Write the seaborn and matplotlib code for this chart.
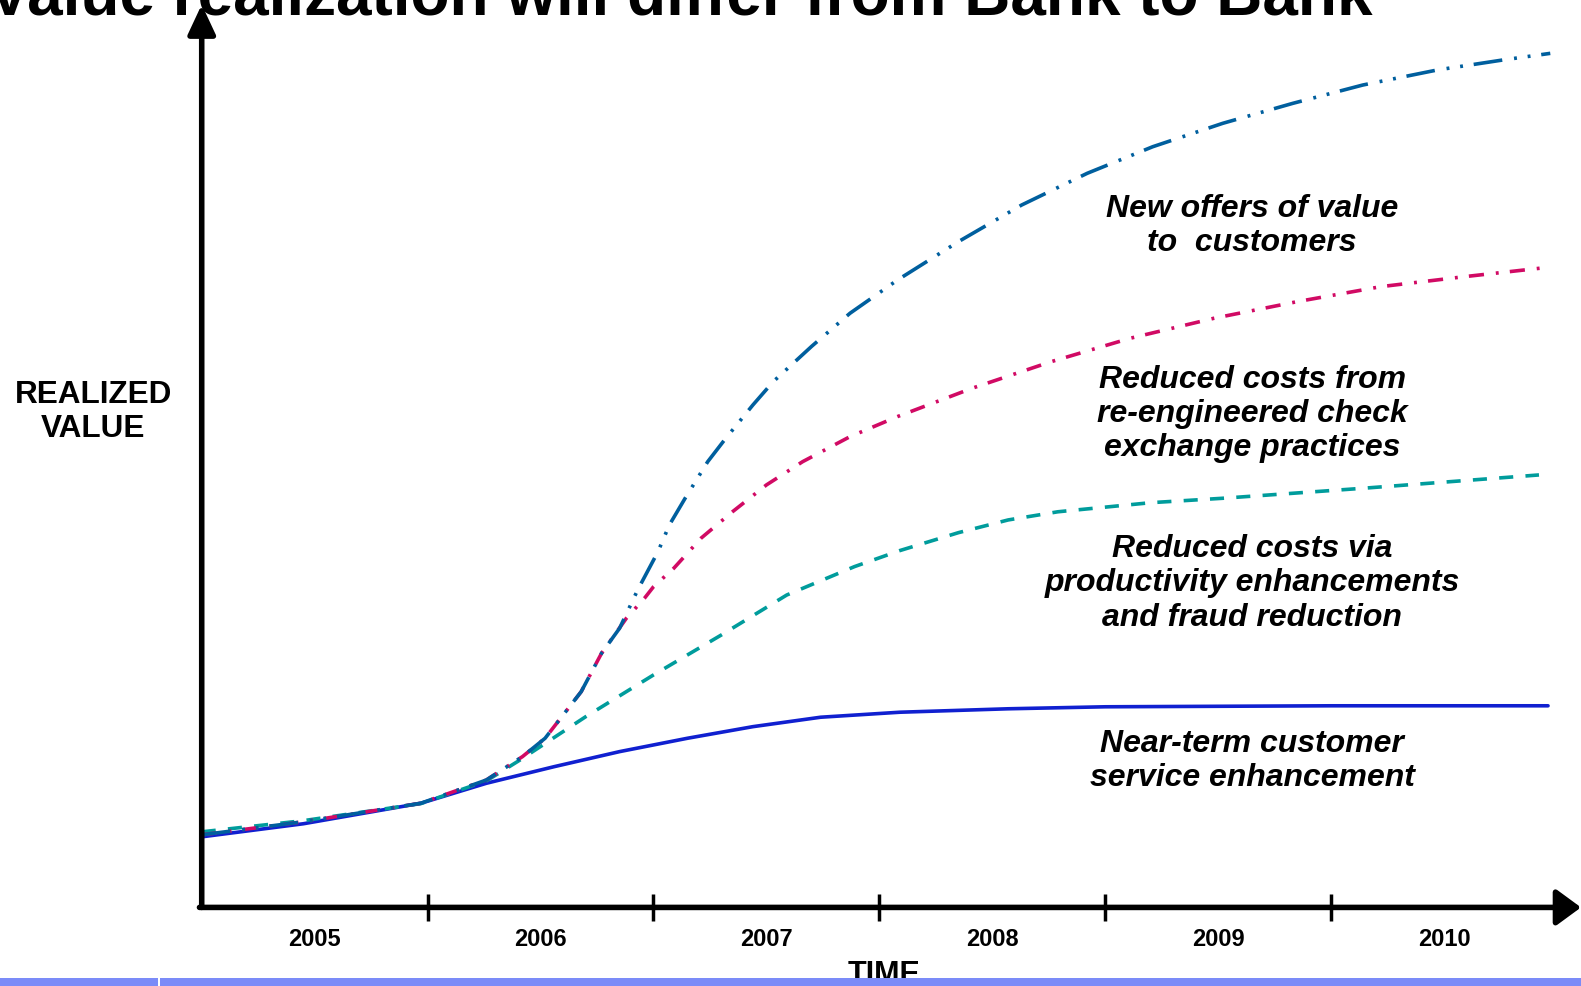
import matplotlib
matplotlib.use("Agg")
import matplotlib.pyplot as plt
from matplotlib.patches import Rectangle
import seaborn as sns

# ---- data (time in years, value in % of axis height) ----
years = [2005, 2006, 2007, 2008, 2009, 2010]

near_t = [2005.00, 2005.45, 2005.97, 2006.26, 2006.56, 2006.85, 2007.15, 2007.44,
          2007.74, 2008.09, 2008.57, 2009.00, 2010.00, 2010.96]
near_v = [7.78, 9.22, 11.48, 13.68, 15.51, 17.17, 18.64, 19.92, 20.96, 21.51, 21.89,
          22.11, 22.22, 22.22]

prod_t = [2005.00, 2005.45, 2005.97, 2006.26, 2006.41, 2006.70, 2007.00, 2007.30,
          2007.59, 2007.89, 2008.09, 2008.35, 2008.57, 2008.79, 2009.20, 2009.52,
          2010.14, 2010.92]
prod_v = [8.33, 9.56, 11.44, 13.94, 16.26, 21.02, 25.62, 30.02, 34.43, 37.56, 39.32,
          41.30, 42.70, 43.60, 44.60, 45.09, 46.19, 47.66]

check_t = [2005.00, 2005.45, 2005.97, 2006.26, 2006.42, 2006.52, 2006.60, 2006.68,
           2006.77, 2006.88, 2006.96, 2007.00, 2007.09, 2007.21, 2007.35, 2007.50,
           2007.66, 2007.87, 2008.08, 2008.41, 2008.76, 2009.11, 2009.48, 2009.85,
           2010.22, 2010.59, 2010.96]
check_v = [8.00, 9.44, 11.48, 14.04, 16.62, 18.64, 21.21, 23.78, 28.01, 31.87, 34.07,
           35.34, 37.38, 40.68, 43.61, 46.56, 49.12, 51.88, 54.09, 57.21, 60.14, 62.72,
           64.92, 66.76, 68.41, 69.51, 70.54]

offers_t = [2005.00, 2005.45, 2005.97, 2006.26, 2006.42, 2006.52, 2006.60, 2006.68,
            2006.77, 2006.85, 2006.93, 2007.02, 2007.07, 2007.14, 2007.24, 2007.32,
            2007.44, 2007.53, 2007.70, 2007.87, 2008.08, 2008.35, 2008.63, 2008.92,
            2009.21, 2009.52, 2009.83, 2010.14, 2010.47, 2010.76, 2010.97]
offers_v = [8.00, 9.44, 11.48, 14.04, 16.62, 18.64, 21.21, 23.78, 28.01, 30.77, 34.99,
            39.21, 42.14, 45.09, 49.12, 51.70, 55.37, 57.94, 61.83, 65.48, 69.14, 73.37,
            77.41, 80.90, 83.83, 86.41, 88.61, 90.63, 92.29, 93.39, 94.12]

labels = ["New offers of value\nto  customers",
          "Reduced costs from\nre-engineered check\nexchange practices",
          "Reduced costs via\nproductivity enhancements\nand fraud reduction",
          "Near-term customer\nservice enhancement"]
label_v = [75.1, 54.4, 35.7, 16.1]

# ---- style ----
sns.set_style("white")
plt.rcParams["font.family"] = ["Liberation Sans", "DejaVu Sans"]
plt.rcParams["text.color"] = "black"

fig = plt.figure(figsize=(15.81, 9.86), dpi=100)
ax = fig.add_axes([0, 0, 1, 1])
ax.set_xlim(2004.107, 2011.106)
ax.set_ylim(-8.66, 100)
ax.axis("off")

lw = 2.6
sns.lineplot(x=near_t, y=near_v, ax=ax, color="#1020d0", linewidth=lw)
sns.lineplot(x=prod_t, y=prod_v, ax=ax, color="#009c9c", linewidth=lw,
             linestyle=(0, (3.9, 3.4)))
sns.lineplot(x=check_t, y=check_v, ax=ax, color="#d10a64", linewidth=lw,
             linestyle=(0, (4.2, 3.3, 0.8, 3.1)))
sns.lineplot(x=offers_t, y=offers_v, ax=ax, color="#005f9e", linewidth=lw,
             linestyle=(0, (8, 3.3, 0.8, 3, 0.8, 3)))

# axes with arrow heads
ax.annotate("", xy=(2011.106, 0), xytext=(2004.99, 0),
            arrowprops=dict(arrowstyle="-|>,head_length=0.75,head_width=0.55",
                            lw=4, color="black", shrinkA=0, shrinkB=0,
                            mutation_scale=20))
ax.annotate("", xy=(2005, 99.5), xytext=(2005, 0),
            arrowprops=dict(arrowstyle="-|>,head_length=0.9,head_width=0.42",
                            lw=4, color="black", shrinkA=0, shrinkB=0,
                            mutation_scale=20))
for yr in years[1:]:
    ax.plot([yr, yr], [-1.45, 1.45], color="black", lw=2.5, solid_capstyle="butt")

# year labels
for yr in years:
    ax.text(yr + 0.5, -3.56, str(yr), ha="center", va="center",
            fontsize=17, fontweight="bold")

ax.text(2008.02, -5.75, "TIME", ha="center", va="top", fontsize=22,
        fontweight="bold", zorder=5)
ax.text(2004.52, 54.6, "REALIZED\nVALUE", ha="center", va="center",
        fontsize=22.7, fontweight="bold", linespacing=1.2)

for txt, v in zip(labels, label_v):
    ax.text(2009.65, v, txt, ha="center", va="center", fontsize=23,
            fontweight="bold", fontstyle="italic", linespacing=1.18)

# title, cut off at the top like the slide
ax.text(2007.12, 98.44, "Value realization will differ from Bank to Bank",
        ha="center", va="baseline", fontsize=46, fontweight="bold")

# slide footer bar
fig.patches.append(Rectangle((0, 0), 1, 8 / 986, transform=fig.transFigure,
                             facecolor="#7b8bf8", edgecolor="none", zorder=1))
fig.patches.append(Rectangle((158 / 1581, 0), 1.5 / 1581, 8 / 986,
                             transform=fig.transFigure, facecolor="white",
                             edgecolor="none", zorder=2))

fig.savefig("out.png", dpi=100)
